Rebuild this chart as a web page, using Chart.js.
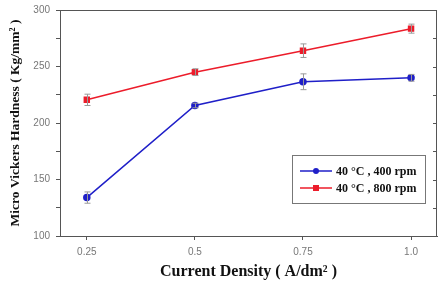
<!DOCTYPE html>
<html><head><meta charset="utf-8">
<script src="https://cdn.jsdelivr.net/npm/chart.js@4/dist/chart.umd.min.js"></script>
<style>html,body{margin:0;padding:0;background:#fff;}#wrap{width:444px;height:285px;position:relative;}</style>
</head><body><div id="wrap"><canvas id="c" width="444" height="285"></canvas></div>
<script>
const currentDensity = [0.25, 0.5, 0.75, 1.0];
const xTickLabels = ['0.25', '0.5', '0.75', '1.0'];
const hardness400 = [134, 215.5, 236.5, 240];
const err400 = [5, 2, 7, 3];
const hardness800 = [220.5, 245, 264, 283.5];
const err800 = [5, 3, 6, 4];
const seriesLabels = ['40 °C , 400 rpm', '40 °C , 800 rpm'];

const errorBars = {
  id: 'errorBars',
  afterDatasetsDraw(chart) {
    const ctx = chart.ctx, xs = chart.scales.x, ys = chart.scales.y;
    ctx.save();
    ctx.strokeStyle = '#999';
    ctx.lineWidth = 1;
    chart.data.datasets.forEach(ds => {
      ds.data.forEach((p, i) => {
        const x = Math.round(xs.getPixelForValue(p.x)) + 0.5;
        const y1 = ys.getPixelForValue(p.y - ds.err[i]);
        const y2 = ys.getPixelForValue(p.y + ds.err[i]);
        ctx.beginPath();
        ctx.moveTo(x, y1); ctx.lineTo(x, y2);
        ctx.moveTo(x - 3, y1); ctx.lineTo(x + 3, y1);
        ctx.moveTo(x - 3, y2); ctx.lineTo(x + 3, y2);
        ctx.stroke();
      });
    });
    ctx.restore();
  }
};

const frame = {
  id: 'frame',
  afterDraw(chart) {
    const ctx = chart.ctx, a = chart.chartArea, ys = chart.scales.y;
    ctx.save();
    ctx.strokeStyle = '#555';
    ctx.lineWidth = 1;
    ctx.strokeRect(a.left + 0.5, a.top + 0.5, a.right - a.left - 1, a.bottom - a.top);
    ctx.beginPath();
    ys.ticks.forEach(t => {
      const y = Math.round(ys.getPixelForValue(t.value)) + 0.5;
      ctx.moveTo(a.right - 4, y); ctx.lineTo(a.right, y);
    });
    ctx.stroke();
    // legend
    const bx = 292, by = 155, bw = 133, bh = 48;
    ctx.fillStyle = '#fff';
    ctx.fillRect(bx, by, bw, bh);
    ctx.strokeStyle = '#777';
    ctx.strokeRect(bx + 0.5, by + 0.5, bw, bh);
    chart.data.datasets.forEach((ds, i) => {
      const yy = by + 16 + i * 17;
      ctx.strokeStyle = ds.borderColor;
      ctx.lineWidth = 1.5;
      ctx.beginPath(); ctx.moveTo(300, yy); ctx.lineTo(332, yy); ctx.stroke();
      ctx.fillStyle = ds.borderColor;
      if (ds.pointStyle === 'rect') ctx.fillRect(313, yy - 3, 6, 6);
      else { ctx.beginPath(); ctx.arc(316, yy, 3, 0, Math.PI * 2); ctx.fill(); }
      ctx.fillStyle = '#111';
      ctx.font = 'bold 12px "Liberation Serif"';
      ctx.textBaseline = 'middle';
      ctx.fillText(ds.label, 336, yy + 1);
    });
    ctx.restore();
  }
};

new Chart(document.getElementById('c'), {
  type: 'line',
  data: {
    datasets: [
      {
        label: seriesLabels[0],
        data: currentDensity.map((x, i) => ({x, y: hardness400[i]})),
        err: err400,
        borderColor: '#1f1fc8', backgroundColor: '#1f1fc8',
        borderWidth: 1.5, pointRadius: 3, pointStyle: 'circle'
      },
      {
        label: seriesLabels[1],
        data: currentDensity.map((x, i) => ({x, y: hardness800[i]})),
        err: err800,
        borderColor: '#ec1c2a', backgroundColor: '#ec1c2a',
        borderWidth: 1.5, pointRadius: 3.5, pointStyle: 'rect'
      }
    ]
  },
  options: {
    responsive: false, animation: false, devicePixelRatio: 1,
    layout: { padding: { left: 0, top: 10, right: 7, bottom: 0 } },
    plugins: { legend: { display: false }, tooltip: { enabled: false } },
    scales: {
      x: {
        type: 'linear', min: 0.188, max: 1.06,
        afterBuildTicks: s => { s.ticks = currentDensity.map(v => ({value: v})); },
        afterFit: s => { s.height = 49; s.paddingLeft = 0; s.paddingRight = 0; },
        ticks: { callback: (v, i) => xTickLabels[i], color: '#777', font: { family: 'Liberation Sans', size: 10 }, padding: 6, maxRotation: 0 },
        grid: { drawOnChartArea: false, tickLength: 4, color: '#555' },
        border: { color: '#555' },
        title: { display: true, text: 'Current Density ( A/dm² )', color: '#111', font: { family: 'Liberation Serif', size: 16, weight: 'bold' }, padding: { top: 2 } }
      },
      y: {
        min: 100, max: 300,
        afterFit: s => { s.width = 60; s.paddingTop = 0; s.paddingBottom = 0; },
        ticks: { stepSize: 25, callback: v => (v % 50 === 0 ? String(v) : ''), color: '#777', font: { family: 'Liberation Sans', size: 10 }, padding: 6 },
        grid: { drawOnChartArea: false, tickLength: 4, color: '#555' },
        border: { color: '#555' },
        title: { display: true, text: 'Micro Vickers Hardness ( Kg/mm² )', color: '#111', font: { family: 'Liberation Serif', size: 13.5, weight: 'bold' }, padding: { top: 7, bottom: 0 } }
      }
    }
  },
  plugins: [errorBars, frame]
});
</script>
</body></html>
